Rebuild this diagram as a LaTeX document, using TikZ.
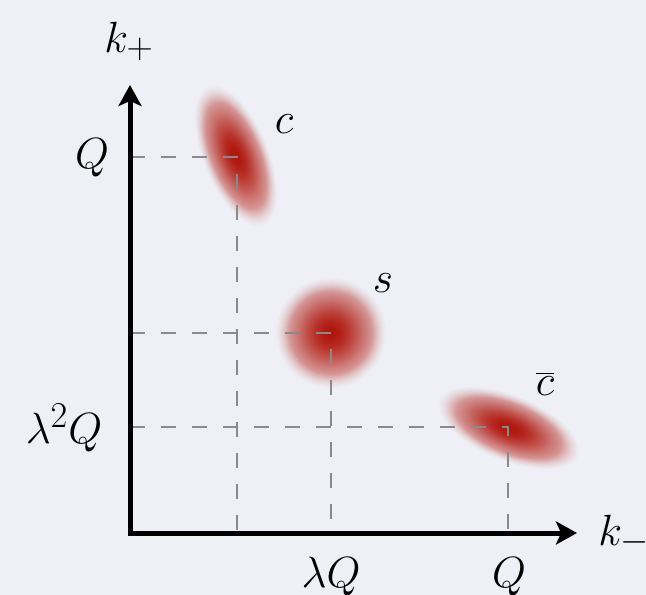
\documentclass[tikz,border=0pt]{standalone}
\usetikzlibrary{arrows.meta}
\definecolor{bg}{RGB}{238,240,245}
\definecolor{blobred}{RGB}{176,22,12}
\definecolor{guidegray}{RGB}{138,138,138}
\begin{document}
\begin{tikzpicture}[x=0.02cm,y=-0.02cm,
  lbl/.style={inner sep=0pt,font=\fontsize{30}{36}\selectfont},
  guide/.style={draw=guidegray,line width=0.04cm,dash pattern=on 0.3cm off 0.32cm},
  axis/.style={line width=0.1cm,line join=miter,
    arrows={Stealth[length=0.42cm,width=0.46cm,inset=0.1cm]-Stealth[length=0.42cm,width=0.46cm,inset=0.1cm]}}]
\fill[bg] (0,0) rectangle (646,595);
\useasboundingbox (0,0) rectangle (646,595);
% key points
\coordinate (O) at (130,533);
\coordinate (ytip) at (130,85);
\coordinate (xtip) at (577,533);
\coordinate (cc) at (237,157);
\coordinate (sc) at (331,333);
\coordinate (cb) at (508,427);
% blobs
\foreach \cx/\cy/\rx/\ry/\ang in {236/156/33/76/22, 331/333/56/56/0, 509/428/76/33/-22}{
  \begin{scope}[shift={(\cx,\cy)},rotate=\ang]
    \foreach \i in {0,...,49}{
      \pgfmathsetmacro\t{1-\i/50}
      \pgfmathsetmacro\p{100*exp(-1.6*\t*\t)*min(1,(1-\t)/0.25)}
      \fill[blobred!\p!bg] (0,0) ellipse [x radius=\t*\rx, y radius=\t*\ry];
    }
  \end{scope}
}
% guides
\draw[guide] (O |- cc) -- (cc) -- (cc |- O);
\draw[guide] (O |- sc) -- (sc) -- (sc |- O);
\draw[guide] (O |- cb) -- (cb) -- (cb |- O);
% axes
\draw[axis] (ytip) -- (O) -- (xtip);
% labels
\node[lbl,anchor=base] (kp) at (129,52) {$k_+$};
\node[lbl,anchor=base west] (km) at (598,545) {$k_-$};
\node[lbl,anchor=base] (qy) at (92,168) {$Q$};
\node[lbl,anchor=base] (l2q) at (64,443) {$\lambda^2 Q$};
\node[lbl,anchor=base] (lq) at (331,587) {$\lambda Q$};
\node[lbl,anchor=base] (qx) at (509,587) {$Q$};
\node[lbl,anchor=base] (cl) at (284,133) {$c$};
\node[lbl,anchor=base] (sl) at (383,292) {$s$};
\node[lbl,anchor=base] (cbl) at (545,395) {$\overline{c}$};
\end{tikzpicture}
\end{document}
